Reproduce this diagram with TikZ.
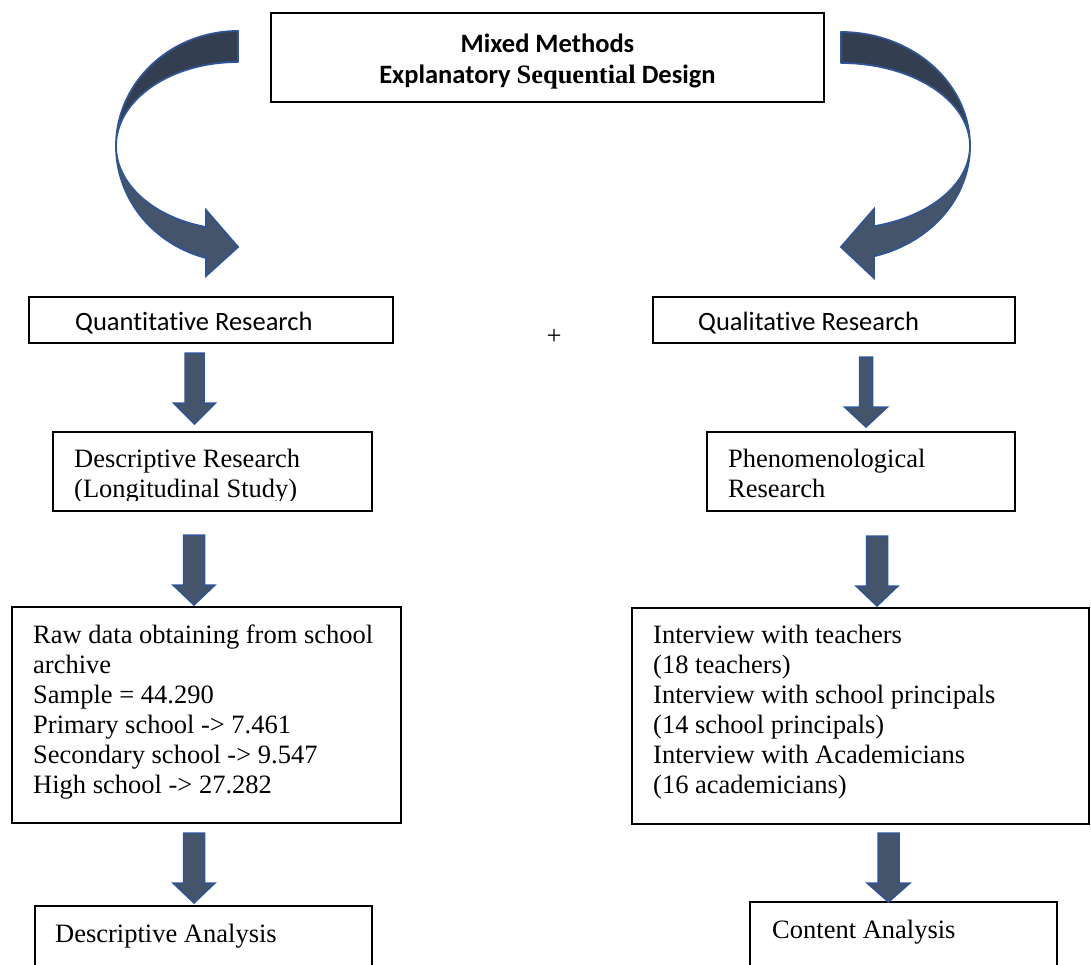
\documentclass[tikz,border=0pt]{standalone}
\usepackage{fontspec}
\setmainfont{Liberation Serif}
\newfontfamily\calfont[Ligatures=NoCommon]{Carlito}
\definecolor{bandDark}{HTML}{333F50}
\definecolor{bandLight}{HTML}{44546A}
\definecolor{edgeBlue}{HTML}{2F5597}
\newcommand\blockdown[6]{% cx, top, base, tip, shaft width, head width
  \filldraw[barrow] ({#1-#5/2},#2) -- ({#1+#5/2},#2) -- ({#1+#5/2},#3) -- ({#1+#6/2},#3)
    -- (#1,#4) -- ({#1-#6/2},#3) -- ({#1-#5/2},#3) -- cycle;}
\begin{document}
\begin{tikzpicture}[x=1pt,y=-1pt,
  box/.style={draw=black, line width=1.1pt, inner sep=0pt, outer sep=0pt, anchor=north west},
  txt/.style={anchor=base west, inner sep=0pt, font=\fontsize{26.5}{30}\selectfont},
  caltxt/.style={anchor=base west, inner sep=0pt, font=\calfont\fontsize{26.5}{32}\selectfont},
  titletxt/.style={anchor=base, inner sep=0pt, font=\calfont\bfseries\fontsize{26.5}{32}\selectfont},
  barrow/.style={fill=bandLight, draw=edgeBlue, line width=1.5pt, line join=miter},
  backband/.style={fill=bandDark, draw=edgeBlue, line width=1.8pt, line join=round},
  frontband/.style={fill=bandLight, draw=edgeBlue, line width=1.8pt, line join=miter}]
\useasboundingbox (0,0) rectangle (1091,964);
\begin{scope}
\clip (0,0) rectangle (1091,964);

% title box
\node[box, minimum width=553pt, minimum height=89pt] (title) at (271,13) {};
\node[titletxt] (t1) at (547.5,52) {Mixed Methods};
\node[titletxt] (t2) at (547.5,83) {Explanatory {\rmfamily\bfseries Sequential} Design};

% left curved arrow (centre 238,146)
\filldraw[backband] plot[domain=270:180, samples=60] ({238+122*cos(\x)},{146+115*sin(\x)})
  -- plot[domain=180:270, samples=60] ({238+122*cos(\x)},{146+84*sin(\x)}) -- cycle;
\filldraw[frontband] plot[domain=180:105.2, samples=60] ({238+122*cos(\x)},{146+116*sin(\x)})
  -- (206,276) -- (238,247) -- (206,210) -- (206,227)
  -- plot[domain=105.2:180, samples=60] ({238+122*cos(\x)},{146+84*sin(\x)}) -- cycle;

% right curved arrow (centre 841,146)
\filldraw[backband] plot[domain=270:360, samples=60] ({841+129*cos(\x)},{146+114*sin(\x)})
  -- plot[domain=360:270, samples=60] ({841+129*cos(\x)},{146+83*sin(\x)}) -- cycle;
\filldraw[frontband] plot[domain=0:75.2, samples=60] ({841+129*cos(\x)},{146+114*sin(\x)})
  -- (874,278) -- (841,247) -- (874,209) -- (874,226)
  -- plot[domain=75.2:0, samples=60] ({841+129*cos(\x)},{146+83*sin(\x)}) -- cycle;

% second row
\node[box, minimum width=364pt, minimum height=46pt] (quant) at (29,297) {};
\node[caltxt] (quantT) at (75,330) {Quantitative Research};
\node[box, minimum width=362pt, minimum height=46pt] (qual) at (653,297) {};
\node[caltxt] (qualT) at (698,330) {Qualitative Research};
\node[inner sep=0pt, font=\fontsize{26.5}{30}\selectfont] (plus) at (554,337) {+};

% third row
\node[box, minimum width=319pt, minimum height=79pt] (desc) at (53,432) {};
\begin{scope}
\clip (53,432) rectangle (372,500);
\node[txt] (descT1) at (74,467) {Descriptive Research};
\node[txt] (descT2) at (74,497) {(Longitudinal Study)};
\end{scope}
\node[box, minimum width=308pt, minimum height=79pt] (phen) at (707,432) {};
\node[txt] (phenT1) at (728,467) {Phenomenological};
\node[txt] (phenT2) at (728,497) {Research};

% fourth row
\node[box, minimum width=389pt, minimum height=216pt] (raw) at (12,607) {};
\node[txt] (rawT1) at (33,643) {Raw data obtaining from school};
\node[txt] (rawT2) at (33,673) {archive};
\node[txt] (rawT3) at (33,703) {Sample = 44.290};
\node[txt] (rawT4) at (33,733) {Primary school -> 7.461};
\node[txt] (rawT5) at (33,763) {Secondary school -> 9.547};
\node[txt] (rawT6) at (33,793) {High school -> 27.282};
\node[box, minimum width=457pt, minimum height=216pt] (intv) at (632,608) {};
\node[txt] (intT1) at (653,643) {Interview with teachers};
\node[txt] (intT2) at (653,673) {(18 teachers)};
\node[txt] (intT3) at (653,703) {Interview with school principals};
\node[txt] (intT4) at (653,733) {(14 school principals)};
\node[txt] (intT5) at (653,763) {Interview with Academicians};
\node[txt] (intT6) at (653,793) {(16 academicians)};

% bottom row (cut by the page edge)
\node[box, minimum width=337pt, minimum height=90pt] (dana) at (35,906) {};
\node[txt] (danaT) at (55,942) {Descriptive Analysis};
\node[box, minimum width=307pt, minimum height=90pt] (cana) at (750,902) {};
\node[txt] (canaT) at (772,938) {Content Analysis};

% block arrows
\blockdown{194.5}{353}{403}{424}{19}{42}
\blockdown{194}{535}{585}{605}{21}{42}
\blockdown{194}{833}{883}{903}{21}{42}
\blockdown{866}{357}{407}{427}{13}{43}
\blockdown{877}{536}{586}{606}{21}{42}
\blockdown{888.5}{833}{883}{902}{21}{43}
\end{scope}
\end{tikzpicture}
\end{document}
